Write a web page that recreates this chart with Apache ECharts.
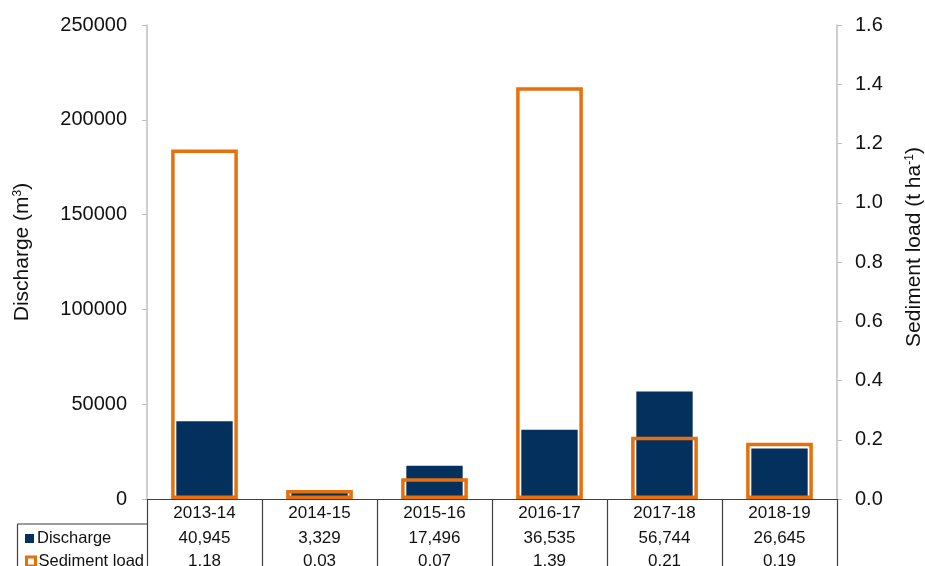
<!DOCTYPE html>
<html>
<head>
<meta charset="utf-8">
<script src="https://cdn.jsdelivr.net/npm/echarts@6/dist/echarts.min.js"></script>
<style>
  html, body { margin: 0; padding: 0; background: #fff; }
  #chart { width: 925px; height: 566px; }
</style>
</head>
<body>
<div id="chart"></div>
<script>
// Annual runoff discharge and sediment load by water year
const years = ['2013-14', '2014-15', '2015-16', '2016-17', '2017-18', '2018-19'];
const discharge = [40945, 3329, 17496, 36535, 56744, 26645];
const sedimentLoad = [1.18, 0.03, 0.07, 1.39, 0.21, 0.19];
const dischargeTicks = [0, 50000, 100000, 150000, 200000, 250000];
const sedimentTicks = [0, 0.2, 0.4, 0.6, 0.8, 1.0, 1.2, 1.4, 1.6];

const FONT = 'Liberation Sans, Arial, sans-serif';
const NAVY = '#03305c';
const ORANGE = '#e8700c';
const TABLE_LINE = '#3f3f3f';
const AXIS_GRAY = '#bfbfbf';
const TEXT = '#111';

// plot-area box in pixels; the data table hangs below it
const G = { left: 147, right: 88, top: 25, bottom: 67 };
const W = 925, H = 566;
const plotBottom = H - G.bottom;
const rowH = 25;

const chart = echarts.init(document.getElementById('chart'), null, { renderer: 'canvas' });

const tableLabel = { fontFamily: FONT, fontSize: 17, color: TEXT };
const legendText = { fontFamily: FONT, fontSize: 16.5, color: TEXT, padding: [0, 0, 0, -2] };
const supStyle = { fontFamily: FONT, fontSize: 12, color: TEXT, verticalAlign: 'top', padding: [0, 0, 9, 0] };

function tableLegend(name, top, itemStyle) {
  return {
    orient: 'vertical',
    left: 25,
    top: top,
    padding: 0,
    itemWidth: 9,
    itemHeight: 9,
    selectedMode: false,
    textStyle: legendText,
    data: [{ name: name, icon: 'rect', itemStyle: itemStyle }]
  };
}

chart.setOption({
  animation: false,
  backgroundColor: '#fff',
  textStyle: { fontFamily: FONT },
  grid: {
    left: G.left, right: G.right, top: G.top, bottom: G.bottom,
    containLabel: false,
    outerBoundsMode: 'none'
  },
  legend: [
    tableLegend('Discharge', plotBottom + rowH + 6, { color: NAVY, borderWidth: 0 }),
    tableLegend('Sediment load', plotBottom + rowH * 2 + 4, { color: '#fff', borderColor: ORANGE, borderWidth: 3 })
  ],
  xAxis: [
    {
      // category row of the table
      type: 'category',
      data: years,
      position: 'bottom',
      axisLine: { show: true, lineStyle: { color: TABLE_LINE, width: 1.2 } },
      axisTick: { show: true, interval: 0, length: G.bottom, lineStyle: { color: TABLE_LINE, width: 1.2 } },
      axisLabel: { ...tableLabel, margin: 6, interval: 0 },
      splitLine: { show: false }
    },
    {
      // discharge row of the table
      type: 'category',
      data: years,
      position: 'bottom',
      offset: rowH,
      axisLine: { show: true, lineStyle: { color: TABLE_LINE, width: 1.2 } },
      axisTick: { show: false },
      axisLabel: {
        ...tableLabel, margin: 6, interval: 0,
        formatter: (v, i) => discharge[i].toLocaleString('en-US')
      },
      splitLine: { show: false }
    },
    {
      // sediment load row of the table
      type: 'category',
      data: years,
      position: 'bottom',
      offset: rowH * 2 - 2,
      axisLine: { show: false },
      axisTick: { show: false },
      axisLabel: {
        ...tableLabel, margin: 6, interval: 0,
        formatter: (v, i) => sedimentLoad[i].toFixed(2)
      },
      splitLine: { show: false }
    }
  ],
  yAxis: [
    {
      type: 'value',
      min: dischargeTicks[0],
      max: dischargeTicks[dischargeTicks.length - 1],
      interval: dischargeTicks[1] - dischargeTicks[0],
      position: 'left',
      name: 'Discharge (m{sup|3})',
      nameLocation: 'middle',
      nameGap: 114,
      nameTextStyle: {
        fontFamily: FONT, fontSize: 21, color: TEXT,
        padding: [0, 0, 0, 20],
        rich: { sup: supStyle }
      },
      axisLine: { show: true, lineStyle: { color: AXIS_GRAY, width: 1.5 } },
      axisTick: { show: true, length: 5, lineStyle: { color: AXIS_GRAY, width: 1 } },
      axisLabel: { fontFamily: FONT, fontSize: 20, color: TEXT, margin: 20, formatter: v => String(v) },
      splitLine: { show: false }
    },
    {
      type: 'value',
      min: sedimentTicks[0],
      max: sedimentTicks[sedimentTicks.length - 1],
      interval: 0.2,
      position: 'right',
      name: 'Sediment load (t ha{sup|-1})',
      nameLocation: 'middle',
      nameGap: 67,
      nameTextStyle: {
        fontFamily: FONT, fontSize: 21, color: TEXT,
        padding: [0, 0, 0, 30],
        rich: { sup: supStyle }
      },
      axisLine: { show: true, lineStyle: { color: AXIS_GRAY, width: 1.5 } },
      axisTick: { show: true, length: 5, lineStyle: { color: AXIS_GRAY, width: 1 } },
      axisLabel: { fontFamily: FONT, fontSize: 20, color: TEXT, margin: 18, formatter: v => v.toFixed(1) },
      splitLine: { show: false }
    }
  ],
  series: [
    {
      name: 'Discharge',
      type: 'bar',
      xAxisIndex: 0,
      yAxisIndex: 0,
      data: discharge,
      barWidth: '49%',
      itemStyle: { color: NAVY },
      z: 2
    },
    {
      name: 'Sediment load',
      type: 'bar',
      xAxisIndex: 1,
      yAxisIndex: 1,
      data: sedimentLoad,
      barWidth: '58%',
      itemStyle: { color: 'rgba(0,0,0,0)', borderColor: ORANGE, borderWidth: 3.5 },
      z: 3
    }
  ],
  graphic: [
    // left-hand legend cell of the data table
    {
      type: 'line',
      shape: { x1: 17.5, y1: plotBottom + rowH, x2: G.left, y2: plotBottom + rowH },
      style: { stroke: TABLE_LINE, lineWidth: 1.2 },
      silent: true
    },
    {
      type: 'line',
      shape: { x1: 17.5, y1: plotBottom + rowH, x2: 17.5, y2: H },
      style: { stroke: TABLE_LINE, lineWidth: 1.2 },
      silent: true
    }
  ]
});
</script>
</body>
</html>
